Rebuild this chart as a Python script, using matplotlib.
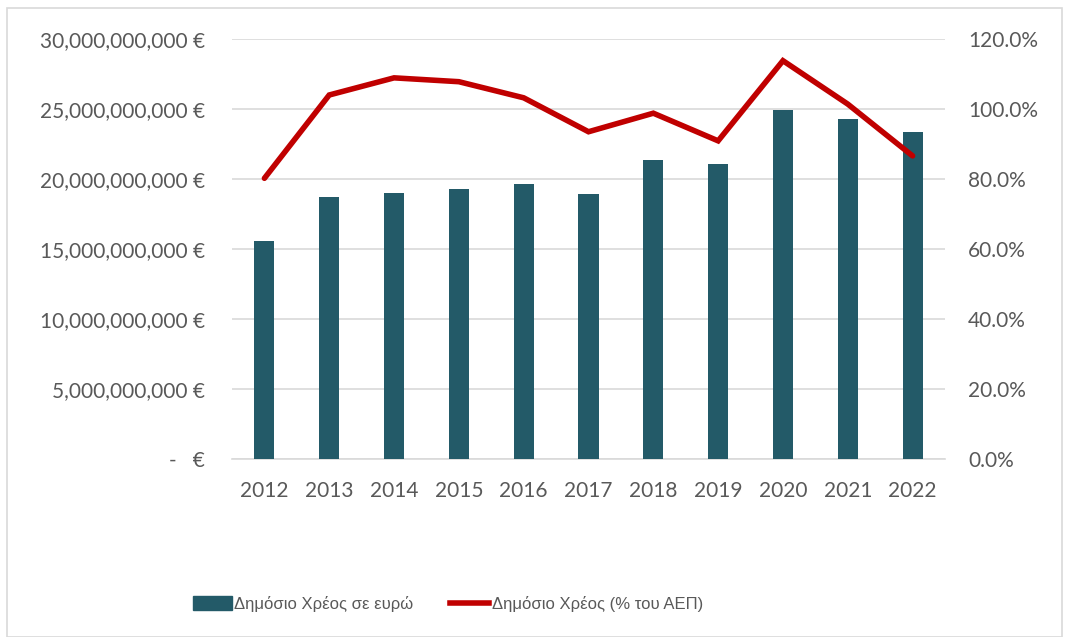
import matplotlib
matplotlib.use("Agg")
import matplotlib.pyplot as plt
from matplotlib.lines import Line2D
from matplotlib.patches import Patch
from matplotlib.ticker import FuncFormatter

years = ["2012", "2013", "2014", "2015", "2016", "2017", "2018", "2019", "2020", "2021", "2022"]
debt_eur = [15.59e9, 18.69e9, 19.00e9, 19.26e9, 19.62e9, 18.93e9, 21.36e9, 21.05e9, 24.93e9, 24.31e9, 23.36e9]
debt_pct = [80.2, 104.0, 108.9, 107.8, 103.2, 93.5, 98.8, 90.9, 113.8, 101.4, 86.6]
bar_label = "Δημόσιο Χρέος σε ευρώ"
line_label = "Δημόσιο Χρέος (% του ΑΕΠ)"

plt.rcParams['font.family'] = ['Lato', 'DejaVu Sans']
txt = "#595959"
bar_c = "#235a68"
line_c = "#c00000"
fs = 15

W, H = 1069, 637
fig = plt.figure(figsize=(W / 100, H / 100), dpi=100)
ax = fig.add_axes([232 / W, 1 - 459 / H, (945 - 232) / W, (459 - 39) / H])
x = list(range(len(years)))
ax.bar(x, debt_eur, width=0.31, color=bar_c, zorder=3)
ax.set_xlim(-0.5, len(years) - 0.5)
ax.set_ylim(0, 30e9)
ax.set_yticks([i * 5e9 for i in range(7)])

def lfmt(v, pos):
    if v == 0:
        return "-   €"
    return f"{v:,.0f} €"

ax.yaxis.set_major_formatter(FuncFormatter(lfmt))
ax.set_xticks(x)
ax.set_xticklabels(years)
ax.grid(axis='y', color='#d9d9d9', lw=1.2, zorder=0)
for s in ['top', 'right', 'left']:
    ax.spines[s].set_visible(False)
ax.spines['bottom'].set_color('#d9d9d9')
ax.spines['bottom'].set_linewidth(1.2)
ax.tick_params(axis='both', length=0, labelsize=fs, colors=txt)
ax.tick_params(axis='y', pad=19.5)
ax.tick_params(axis='x', pad=16)

ax2 = ax.twinx()
ax2.plot(x, debt_pct, color=line_c, lw=4, solid_capstyle='round', solid_joinstyle='miter', zorder=4)
ax2.set_ylim(0, 120)
ax2.set_yticks([0, 20, 40, 60, 80, 100, 120])
ax2.yaxis.set_major_formatter(FuncFormatter(lambda v, p: f"{v:.1f}%"))
for s in ax2.spines.values():
    s.set_visible(False)
ax2.tick_params(axis='y', length=0, labelsize=fs, colors=txt, pad=16.5)

handles = [Patch(color=bar_c, label=bar_label), Line2D([0], [0], color=line_c, lw=4, label=line_label)]
fig.legend(handles=handles, loc='center', bbox_to_anchor=(448 / W, 1 - 604 / H), ncol=2, frameon=False,
           prop={'family': ['Liberation Sans', 'DejaVu Sans'], 'size': 12}, labelcolor=txt,
           handlelength=2.35, handletextpad=0.15, columnspacing=2.2, handleheight=0.9)

fig.patches.append(plt.Rectangle((7 / W, 0.5 / H), (W - 14) / W, (H - 8) / H, transform=fig.transFigure,
                                 fill=False, edgecolor='#d9d9d9', lw=1.2))
fig.savefig("out.png", dpi=100)
